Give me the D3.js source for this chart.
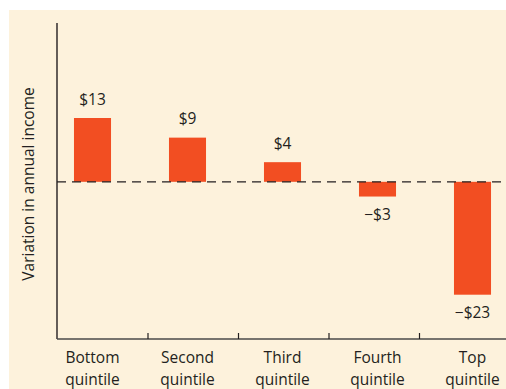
<!DOCTYPE html>
<html>
<head>
<meta charset="utf-8">
<script src="https://cdn.jsdelivr.net/npm/d3@7"></script>
<style>
  html, body { margin: 0; padding: 0; background: #ffffff; }
  svg { display: block; }
  text { font-family: "Open Sans", Lato, sans-serif; fill: #231f20; }
</style>
</head>
<body>
<svg id="chart" width="506" height="389"></svg>
<script>
// Income change by quintile
const categories = ["Bottom quintile", "Second quintile", "Third quintile", "Fourth quintile", "Top quintile"];
const values = [13, 9, 4, -3, -23];
const valueLabels = ["$13", "$9", "$4", "\u2212$3", "\u2212$23"];
const yAxisTitle = "Variation in annual income";

const W = 506, H = 389;
const svg = d3.select("#chart");

// cream panel
svg.append("rect")
  .attr("x", 9).attr("y", 10)
  .attr("width", W - 9).attr("height", H - 10)
  .attr("fill", "#fdf2dc");

const x = d3.scaleBand()
  .domain(categories)
  .range([45, 520])
  .paddingInner(0.61)
  .paddingOuter(0.305);

const y = d3.scaleLinear()
  .domain([-23, 13])
  .range([294.7, 118]);

// divisions between categories along the baseline
const div = d3.scaleLinear().domain([0, 5]).range([57, 509.5]);

const axisY = 339;

// vertical axis line
svg.append("line")
  .attr("x1", 57).attr("x2", 57)
  .attr("y1", 23).attr("y2", axisY)
  .attr("stroke", "#231f20").attr("stroke-width", 1.4);

// horizontal axis with upward ticks
const xAxis = d3.axisTop(div)
  .tickValues([1, 2, 3, 4])
  .tickSize(6)
  .tickSizeOuter(0)
  .tickFormat("");
const gx = svg.append("g")
  .attr("transform", `translate(0,${axisY})`)
  .call(xAxis);
gx.select(".domain").attr("d", `M57,0H${W}`).attr("stroke", "#4a4a4a").attr("stroke-width", 1.6);
gx.selectAll(".tick line").attr("stroke", "#231f20").attr("stroke-width", 1.2);

// bars
svg.selectAll("rect.bar")
  .data(values)
  .join("rect")
  .attr("class", "bar")
  .attr("x", (d, i) => x(categories[i]))
  .attr("width", x.bandwidth())
  .attr("y", d => y(Math.max(0, d)))
  .attr("height", d => Math.abs(y(d) - y(0)))
  .attr("fill", "#f24e22");

// zero reference line
svg.append("line")
  .attr("x1", 57).attr("x2", W)
  .attr("y1", y(0)).attr("y2", y(0))
  .attr("stroke", "#231f20")
  .attr("stroke-width", 1.3)
  .attr("stroke-dasharray", "9,6");

// value labels
svg.selectAll("text.val")
  .data(values)
  .join("text")
  .attr("class", "val")
  .attr("x", (d, i) => x(categories[i]) + x.bandwidth() / 2)
  .attr("y", d => d >= 0 ? y(d) - 13.5 : y(d) + 23.5)
  .attr("text-anchor", "middle")
  .attr("font-size", 15.5)
  .text((d, i) => valueLabels[i]);

// category labels, two lines each
const catLabels = svg.selectAll("text.cat")
  .data(categories)
  .join("text")
  .attr("class", "cat")
  .attr("text-anchor", "middle")
  .attr("font-size", 15.5);
catLabels.each(function(d) {
  const parts = d.split(" ");
  const cx = x(d) + x.bandwidth() / 2;
  const t = d3.select(this);
  t.append("tspan").attr("x", cx).attr("y", 362.5).text(parts[0]);
  t.append("tspan").attr("x", cx).attr("y", 385).text(parts[1]);
});

// y-axis title
svg.append("text")
  .attr("transform", "translate(34,184) rotate(-90)")
  .attr("text-anchor", "middle")
  .attr("font-size", 15.5)
  .text(yAxisTitle);
</script>
</body>
</html>
